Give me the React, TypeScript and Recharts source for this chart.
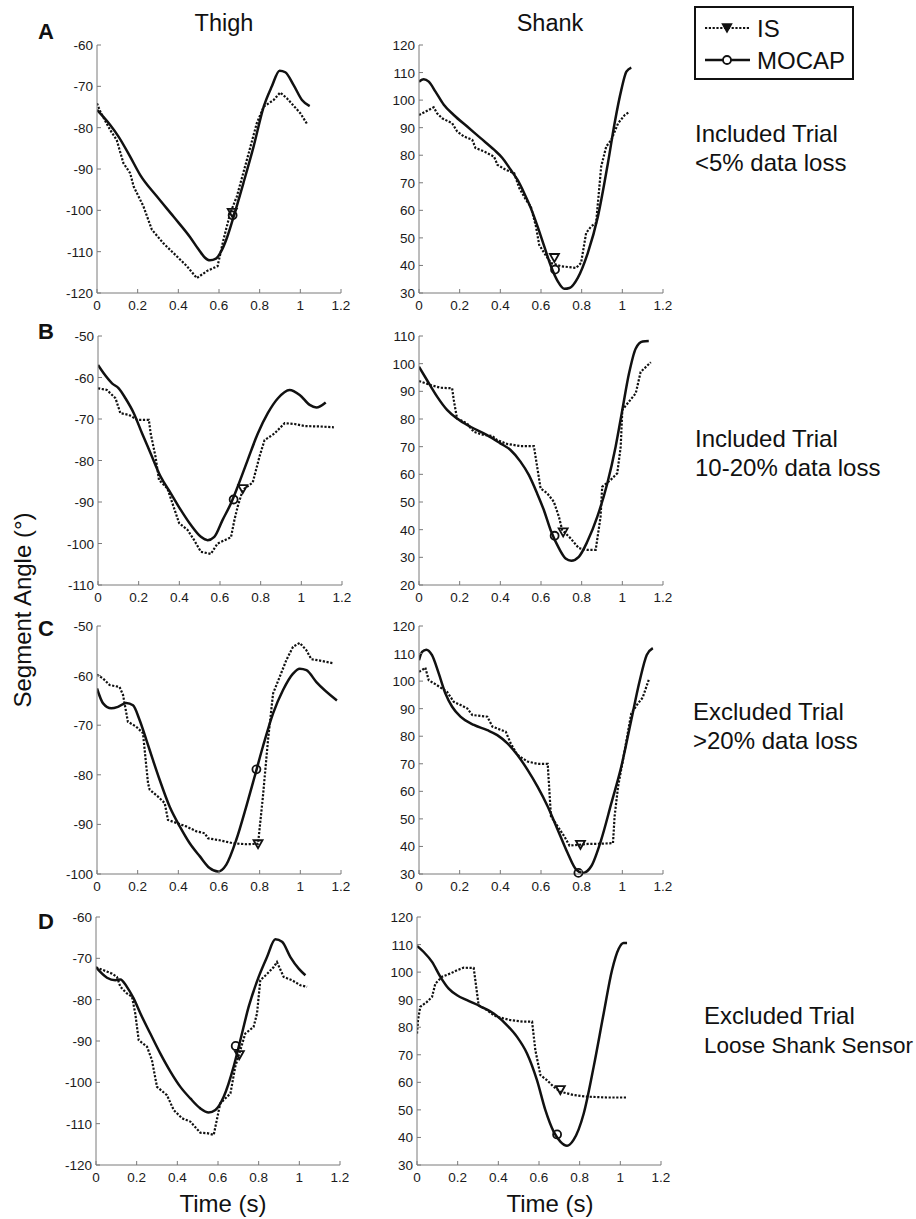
import React from "react";
import { LineChart, Line, XAxis, YAxis, ReferenceDot } from "recharts";

// ---------- data (time s, angle deg) ----------
const X_TICKS = [0, 0.2, 0.4, 0.6, 0.8, 1, 1.2];

const thighA_IS = [[0,-74.1],[0.015,-76],[0.064,-80.5],[0.097,-83],[0.13,-88.6],[0.163,-91],[0.18,-94.2],[0.228,-99],[0.27,-104.7],[0.327,-108],[0.392,-111.1],[0.442,-113.5],[0.491,-116.4],[0.54,-114.7],[0.593,-113.5],[0.622,-107.1],[0.655,-100.7],[0.688,-96.6],[0.737,-87.8],[0.786,-78.9],[0.82,-74.9],[0.869,-73.3],[0.901,-71.5],[0.934,-72.9],[1.0,-76.5],[1.033,-79.1]];
const thighA_MOCAP = [[0,-75.7],[0.064,-79.3],[0.105,-82.1],[0.163,-87],[0.212,-91.4],[0.294,-96.6],[0.376,-101.5],[0.458,-106.5],[0.5,-109.5],[0.53,-111.4],[0.555,-112.1],[0.585,-111.7],[0.615,-109.5],[0.64,-106.5],[0.672,-101.5],[0.72,-93.4],[0.77,-84.6],[0.82,-74.9],[0.86,-70],[0.898,-66.2],[0.926,-66.6],[0.967,-69.7],[1.008,-73.3],[1.046,-74.8]];
const shankA_IS = [[0,94.6],[0.031,95.8],[0.072,97.4],[0.089,95.2],[0.114,93.4],[0.163,91.6],[0.188,88.6],[0.221,86.8],[0.262,85.6],[0.278,82.6],[0.32,81.4],[0.369,79.5],[0.386,76.5],[0.427,74.7],[0.468,73.5],[0.493,68.1],[0.526,63.8],[0.55,61.4],[0.575,54.2],[0.591,47.5],[0.616,44.5],[0.649,40.9],[0.699,39.7],[0.773,39.1],[0.797,40.9],[0.822,51.8],[0.847,54.2],[0.871,55.4],[0.896,75.9],[0.921,83.2],[0.946,85.6],[0.979,91.6],[1.012,94.6],[1.036,95.8]];
const shankA_MOCAP = [[0,106.7],[0.023,107.6],[0.048,106.7],[0.081,103.1],[0.122,98.3],[0.171,94.6],[0.237,90.4],[0.303,86.2],[0.369,82],[0.41,79],[0.451,74.7],[0.484,71.1],[0.517,66.3],[0.55,60.8],[0.583,54.2],[0.616,46.9],[0.649,39.7],[0.682,34.3],[0.715,31.5],[0.74,31.8],[0.781,35.5],[0.83,44.5],[0.88,57.8],[0.929,77.1],[0.962,91.6],[0.995,103.7],[1.02,110.3],[1.044,111.8]];

const thighB_IS = [[0,-62.6],[0.044,-63],[0.086,-65],[0.11,-68.6],[0.152,-69],[0.193,-70.2],[0.25,-70.2],[0.259,-73.5],[0.283,-79.1],[0.3,-84.7],[0.341,-86.7],[0.366,-90.3],[0.399,-95.1],[0.44,-96.7],[0.473,-99.2],[0.506,-102],[0.555,-102.5],[0.588,-100],[0.654,-98.5],[0.671,-94.3],[0.687,-91.1],[0.712,-87.1],[0.761,-85.3],[0.794,-79.1],[0.819,-75.1],[0.868,-73.5],[0.918,-71],[0.967,-71.2],[1.016,-71.7],[1.09,-71.8],[1.16,-72]];
const thighB_MOCAP = [[0,-57],[0.028,-59],[0.069,-61.4],[0.102,-62.6],[0.135,-65],[0.176,-68.6],[0.217,-73.5],[0.259,-78.3],[0.308,-83.9],[0.358,-87.9],[0.407,-91.9],[0.456,-95.5],[0.506,-98.4],[0.539,-99.2],[0.572,-98.4],[0.613,-94.3],[0.654,-90.3],[0.687,-86.3],[0.736,-79.9],[0.786,-73.5],[0.835,-68.6],[0.885,-65],[0.942,-63],[0.992,-64.2],[1.041,-66.6],[1.074,-67.2],[1.12,-66]];
const shankB_IS = [[0,93.7],[0.056,92.3],[0.105,91.3],[0.163,91.1],[0.171,86.9],[0.187,80.2],[0.236,78.4],[0.269,75.4],[0.319,74.2],[0.36,73.9],[0.384,72.4],[0.433,71],[0.499,70.2],[0.565,70.2],[0.581,62.8],[0.598,54.9],[0.631,53.1],[0.663,50.1],[0.688,44.7],[0.704,39.9],[0.745,36.9],[0.786,33.3],[0.828,32.7],[0.869,32.7],[0.893,44.7],[0.901,55.5],[0.943,58],[0.975,60.4],[0.992,70],[1.0,83.3],[1.033,86.3],[1.066,89.3],[1.09,97],[1.14,100.5]];
const shankB_MOCAP = [[0,98.9],[0.039,94.1],[0.089,88.1],[0.138,83.3],[0.187,80.2],[0.253,77.2],[0.335,74.2],[0.4,71.2],[0.45,68.8],[0.499,64.6],[0.54,59.8],[0.581,53.1],[0.614,47.1],[0.647,39.9],[0.688,33.3],[0.721,29.6],[0.749,28.8],[0.786,30.2],[0.828,35.7],[0.877,44.7],[0.926,56.7],[0.967,70],[1.0,83.3],[1.033,96.5],[1.066,105.5],[1.1,108],[1.13,108.2]];

const thighC_IS = [[0,-59.8],[0.03,-60.6],[0.062,-61.9],[0.111,-62.3],[0.128,-63.9],[0.152,-69.3],[0.193,-70.3],[0.226,-71.6],[0.251,-81.7],[0.259,-83],[0.3,-84.4],[0.333,-85.7],[0.349,-89.1],[0.39,-89.7],[0.439,-90.4],[0.489,-91.4],[0.53,-91.8],[0.546,-92.8],[0.603,-93.2],[0.669,-93.8],[0.734,-94],[0.792,-93.9],[0.816,-84.4],[0.841,-73],[0.866,-63.6],[0.898,-60.3],[0.931,-56.9],[0.964,-54.2],[0.997,-53.4],[1.03,-54.9],[1.054,-56.7],[1.087,-56.9],[1.16,-57.5]];
const thighC_MOCAP = [[0,-62.6],[0.03,-65.6],[0.07,-66.6],[0.103,-66.3],[0.144,-65.5],[0.177,-66],[0.21,-69],[0.243,-73],[0.275,-77],[0.308,-81],[0.357,-86.4],[0.407,-90.4],[0.456,-93.8],[0.505,-96.4],[0.554,-98.8],[0.595,-99.5],[0.636,-98.1],[0.685,-93.1],[0.734,-86.4],[0.775,-80.4],[0.816,-74.3],[0.866,-67.6],[0.915,-62.9],[0.964,-59.6],[0.997,-58.6],[1.03,-58.9],[1.079,-61.3],[1.18,-65]];
const shankC_IS = [[0,103.4],[0.015,104],[0.031,104.9],[0.048,100.3],[0.089,98.5],[0.138,96.1],[0.171,92.5],[0.221,90.7],[0.237,90.1],[0.262,87.7],[0.336,87.1],[0.361,83.5],[0.427,81.6],[0.451,77.4],[0.484,73.2],[0.534,70.8],[0.583,70],[0.633,70],[0.649,50.9],[0.682,47.3],[0.715,43.6],[0.74,40.3],[0.83,40.9],[0.896,41],[0.954,41.2],[0.962,50.9],[0.979,61.7],[1.012,75],[1.044,88.3],[1.077,91.9],[1.1,94],[1.13,100.5]];
const shankC_MOCAP = [[0,107.6],[0.015,110.6],[0.036,111.4],[0.064,109.4],[0.097,102.8],[0.13,95.5],[0.163,90.7],[0.204,87.1],[0.27,84.1],[0.336,82.2],[0.385,80.4],[0.435,77.4],[0.484,73.2],[0.534,67.8],[0.583,61.7],[0.633,54.5],[0.682,46.1],[0.731,37.6],[0.773,31.6],[0.806,30.4],[0.847,32.8],[0.896,42.4],[0.946,55.7],[0.995,69],[1.044,85.9],[1.086,100.3],[1.12,109.5],[1.15,112]];

const thighD_IS = [[0,-72.2],[0.038,-72.9],[0.079,-73.7],[0.103,-74.5],[0.12,-76.9],[0.152,-78.5],[0.177,-79.3],[0.193,-83.3],[0.21,-89.8],[0.251,-91.4],[0.275,-94.6],[0.3,-101.1],[0.349,-103.1],[0.382,-106.7],[0.423,-108.7],[0.464,-109.5],[0.513,-112.2],[0.546,-112.3],[0.579,-112.7],[0.611,-105.1],[0.661,-102.7],[0.685,-96.2],[0.71,-92.2],[0.734,-88.2],[0.775,-86.6],[0.792,-83.3],[0.808,-75.3],[0.841,-73.8],[0.874,-72.1],[0.89,-70.9],[0.923,-74.5],[0.964,-75.3],[1.005,-76.5],[1.038,-76.9]];
const thighD_MOCAP = [[0,-72.1],[0.021,-73.3],[0.054,-74.7],[0.095,-75.3],[0.12,-75.1],[0.152,-76.9],[0.185,-79.7],[0.218,-83.3],[0.267,-88.2],[0.316,-93],[0.366,-97.4],[0.415,-101.1],[0.464,-103.9],[0.513,-106.3],[0.554,-107.3],[0.587,-106.7],[0.628,-103.5],[0.677,-96.2],[0.71,-89.8],[0.751,-81.7],[0.8,-74.5],[0.841,-69.7],[0.882,-65.4],[0.915,-66],[0.956,-69.7],[0.997,-72.5],[1.03,-74.1]];
const shankD_IS = [[0,77.7],[0.005,82.6],[0.016,87.4],[0.049,89.2],[0.074,91],[0.09,95.8],[0.123,98.3],[0.164,99.5],[0.197,100.7],[0.23,101.6],[0.279,101.5],[0.303,88],[0.344,86.2],[0.377,84.4],[0.393,83.8],[0.459,82.6],[0.525,82],[0.566,82],[0.582,71.7],[0.607,62.6],[0.639,60.8],[0.672,58.4],[0.705,56.6],[0.77,55.4],[0.836,54.8],[0.934,54.5],[1.033,54.5]];
const shankD_MOCAP = [[0,109.5],[0.033,107.3],[0.074,103.7],[0.115,98.3],[0.156,94],[0.197,91.6],[0.246,89.8],[0.311,87.6],[0.377,85],[0.443,80.7],[0.492,76.5],[0.541,70.5],[0.59,60.8],[0.631,50],[0.672,42.1],[0.705,38.5],[0.738,37],[0.77,39.1],[0.82,48.7],[0.869,65.7],[0.918,85],[0.959,100.7],[0.992,108.5],[1.016,110.6],[1.033,110.6]];

// marker points [t, value]
const thighA_marks = { tri: [0.665, -100.6], circ: [0.667, -101.2] };
const shankA_marks = { tri: [0.666, 42.7], circ: [0.669, 38.5] };
const thighB_marks = { tri: [0.712, -86.9], circ: [0.667, -89.4] };
const shankB_marks = { tri: [0.709, 39], circ: [0.667, 37.8] };
const thighC_marks = { tri: [0.792, -94], circ: [0.784, -78.9] };
const shankC_marks = { tri: [0.794, 40.6], circ: [0.784, 30.4] };
const thighD_marks = { tri: [0.705, -93.4], circ: [0.687, -91.2] };
const shankD_marks = { tri: [0.705, 57.2], circ: [0.689, 41.1] };

const thighA_ticks = [-120, -110, -100, -90, -80, -70, -60];
const shankA_ticks = [30, 40, 50, 60, 70, 80, 90, 100, 110, 120];
const thighB_ticks = [-110, -100, -90, -80, -70, -60, -50];
const shankB_ticks = [20, 30, 40, 50, 60, 70, 80, 90, 100, 110];
const thighC_ticks = [-100, -90, -80, -70, -60, -50];
const shankC_ticks = [30, 40, 50, 60, 70, 80, 90, 100, 110, 120];
const thighD_ticks = [-120, -110, -100, -90, -80, -70, -60];
const shankD_ticks = [30, 40, 50, 60, 70, 80, 90, 100, 110, 120];

const rowLabels = ["A", "B", "C", "D"];
const colTitles = ["Thigh", "Shank"];
const annotations = [
  ["Included Trial", "<5% data loss"],
  ["Included Trial", "10-20% data loss"],
  ["Excluded Trial", ">20% data loss"],
  ["Excluded Trial", "Loose Shank Sensor"],
];
const seriesNames = ["IS", "MOCAP"];

// ---------- styling / layout ----------
const FONT = "'Liberation Sans', Arial, Helvetica, sans-serif";
const AXIS = "#7a7a7a";
const INK = "#111";
const PW = 244;
const ROWS = [
  { top: 45, h: 248, tx: 97, sx: 419 },
  { top: 336, h: 249, tx: 97.5, sx: 418.5 },
  { top: 626, h: 248, tx: 97, sx: 419 },
  { top: 917, h: 248, tx: 96, sx: 417 },
];

const toObj = (arr: number[][]) => arr.map(([t, v]) => ({ t, v }));

const XTick = (props: any) => {
  const { x, y, payload } = props;
  return (
    <g>
      <line x1={x} x2={x} y1={y} y2={y - 4} stroke={AXIS} strokeWidth={1} />
      <text x={x} y={y + 17} textAnchor="middle" fontSize={13.5} fill="#1a1a1a" fontFamily={FONT}>
        {String(payload.value)}
      </text>
    </g>
  );
};

const YTick = (props: any) => {
  const { x, y, payload } = props;
  return (
    <g>
      <line x1={x} x2={x + 4} y1={y} y2={y} stroke={AXIS} strokeWidth={1} />
      <text x={x - 4} y={y + 5} textAnchor="end" fontSize={13.5} fill="#1a1a1a" fontFamily={FONT}>
        {String(payload.value)}
      </text>
    </g>
  );
};

const TriShape = (p: any) => (
  <path
    d={`M${p.cx - 4.5},${p.cy - 4} L${p.cx + 4.5},${p.cy - 4} L${p.cx},${p.cy + 4} Z`}
    fill="none"
    stroke={INK}
    strokeWidth={1.8}
  />
);
const CircShape = (p: any) => (
  <circle cx={p.cx} cy={p.cy} r={4} fill="none" stroke={INK} strokeWidth={1.8} />
);

function Panel(props: {
  x: number; y: number; h: number; ticks: number[];
  is: number[][]; mocap: number[][]; marks: { tri: number[]; circ: number[] };
}) {
  const ML = 60, MT = 10, MR = 14, MB = 30;
  const { x, y, h, ticks, is, mocap, marks } = props;
  const domain = [ticks[0], ticks[ticks.length - 1]];
  return (
    <div style={{ position: "absolute", left: x - ML, top: y - MT }}>
      <LineChart width={PW + ML + MR} height={h + MT + MB} margin={{ top: MT, right: MR, left: 0, bottom: 0 }}>
        <XAxis
          type="number" dataKey="t" domain={[0, 1.2]} ticks={X_TICKS} height={MB}
          tickSize={0} tickMargin={0} tick={XTick} stroke={AXIS} allowDataOverflow interval={0}
        />
        <YAxis
          type="number" dataKey="v" domain={domain} ticks={ticks} width={ML}
          tickSize={0} tickMargin={0} tick={YTick} stroke={AXIS} allowDataOverflow interval={0}
        />
        <Line
          data={toObj(is)} dataKey="v" type="linear" stroke={INK} strokeWidth={2.2}
          strokeDasharray="2.2 1.6" dot={false} isAnimationActive={false}
        />
        <Line
          data={toObj(mocap)} dataKey="v" type="monotone" stroke={INK} strokeWidth={2.5}
          dot={false} isAnimationActive={false}
        />
        <ReferenceDot x={marks.tri[0]} y={marks.tri[1]} r={4} shape={TriShape} ifOverflow="visible" />
        <ReferenceDot x={marks.circ[0]} y={marks.circ[1]} r={4} shape={CircShape} ifOverflow="visible" />
      </LineChart>
    </div>
  );
}

const PANELS = [
  { row: 0, col: 0, ticks: thighA_ticks, is: thighA_IS, mocap: thighA_MOCAP, marks: thighA_marks },
  { row: 0, col: 1, ticks: shankA_ticks, is: shankA_IS, mocap: shankA_MOCAP, marks: shankA_marks },
  { row: 1, col: 0, ticks: thighB_ticks, is: thighB_IS, mocap: thighB_MOCAP, marks: thighB_marks },
  { row: 1, col: 1, ticks: shankB_ticks, is: shankB_IS, mocap: shankB_MOCAP, marks: shankB_marks },
  { row: 2, col: 0, ticks: thighC_ticks, is: thighC_IS, mocap: thighC_MOCAP, marks: thighC_marks },
  { row: 2, col: 1, ticks: shankC_ticks, is: shankC_IS, mocap: shankC_MOCAP, marks: shankC_marks },
  { row: 3, col: 0, ticks: thighD_ticks, is: thighD_IS, mocap: thighD_MOCAP, marks: thighD_marks },
  { row: 3, col: 1, ticks: shankD_ticks, is: shankD_IS, mocap: shankD_MOCAP, marks: shankD_marks },
];

const letterBase = [39, 339, 636, 929];
const annot = [
  { x: 695, y: 142, fs2: 24 },
  { x: 695, y: 447, fs2: 24 },
  { x: 693, y: 720, fs2: 24 },
  { x: 704, y: 1024, fs2: 22.5 },
];

export default function App() {
  return (
    <div style={{ position: "absolute", left: 0, top: 0, width: 916, height: 1219, background: "#fff", overflow: "hidden" }}>
      {PANELS.map((p, i) => {
        const r = ROWS[p.row];
        return (
          <Panel key={i} x={p.col === 0 ? r.tx : r.sx} y={r.top} h={r.h}
            ticks={p.ticks} is={p.is} mocap={p.mocap} marks={p.marks} />
        );
      })}
      <svg width={916} height={1219} style={{ position: "absolute", left: 0, top: 0, pointerEvents: "none" }} fontFamily={FONT}>
        {/* column titles */}
        <text x={224} y={31} textAnchor="middle" fontSize={23.5} fill={INK}>{colTitles[0]}</text>
        <text x={550} y={31} textAnchor="middle" fontSize={23.5} fill={INK}>{colTitles[1]}</text>
        {/* row letters */}
        {rowLabels.map((l, i) => (
          <text key={l} x={38} y={letterBase[i]} fontSize={22} fontWeight="bold" fill={INK}>{l}</text>
        ))}
        {/* legend */}
        <rect x={695} y={7} width={158} height={72} fill="#fff" stroke={INK} strokeWidth={2} />
        <line x1={705} x2={750} y1={28} y2={28} stroke={INK} strokeWidth={2.2} strokeDasharray="2.2 1.6" />
        <path d="M722.5,24 L731.5,24 L727,32 Z" fill={INK} stroke={INK} strokeWidth={1.5} />
        <text x={757} y={37} fontSize={24} fill={INK}>{seriesNames[0]}</text>
        <line x1={705} x2={750} y1={60} y2={60} stroke={INK} strokeWidth={2.5} />
        <circle cx={727} cy={60} r={4} fill="#fff" stroke={INK} strokeWidth={1.8} />
        <text x={757} y={69} fontSize={24} fill={INK}>{seriesNames[1]}</text>
        {/* annotations */}
        {annotations.map((a, i) => (
          <g key={i}>
            <text x={annot[i].x} y={annot[i].y} fontSize={24} fill={INK}>{a[0]}</text>
            <text x={annot[i].x} y={annot[i].y + 29} fontSize={annot[i].fs2} fill={INK}>{a[1]}</text>
          </g>
        ))}
        {/* axis labels */}
        <text transform="translate(31,610) rotate(-90)" textAnchor="middle" fontSize={24} fill={INK}>Segment Angle (°)</text>
        <text x={223} y={1212} textAnchor="middle" fontSize={24} fill={INK}>Time (s)</text>
        <text x={550} y={1212} textAnchor="middle" fontSize={24} fill={INK}>Time (s)</text>
      </svg>
    </div>
  );
}
